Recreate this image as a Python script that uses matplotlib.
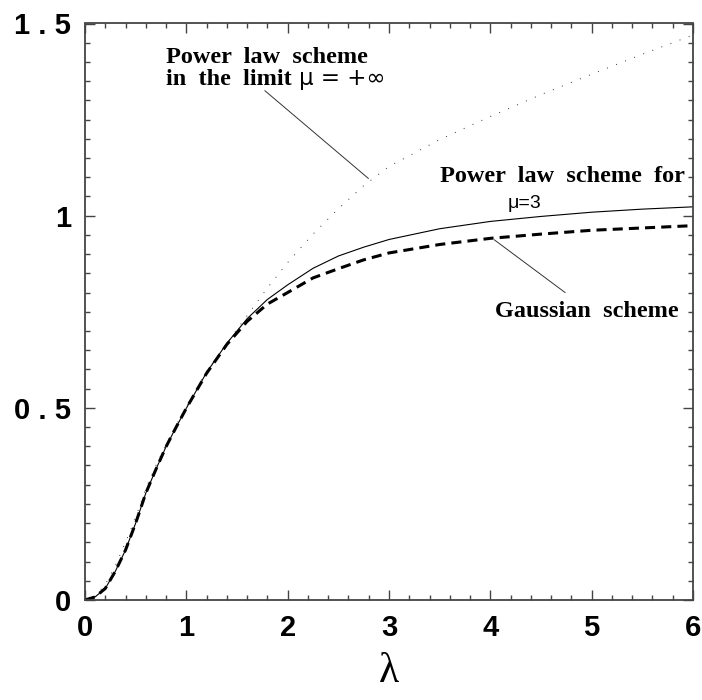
import numpy as np
import matplotlib
matplotlib.use("Agg")
import matplotlib.pyplot as plt
from matplotlib.ticker import MultipleLocator

# values
lam = [0, 0.1, 0.2, 0.3, 0.4, 0.5, 0.6, 0.7, 0.8, 0.9, 1.0, 1.2, 1.4, 1.6, 1.8,
       2.0, 2.25, 2.5, 2.75, 3.0, 3.5, 4.0, 4.5, 5.0, 5.5, 6.0]
gauss = [0, 0.008, 0.03, 0.075, 0.13, 0.2, 0.278, 0.34, 0.399, 0.45, 0.499, 0.59,
         0.665, 0.725, 0.77, 0.80, 0.838, 0.862, 0.885, 0.903, 0.925, 0.941,
         0.952, 0.962, 0.968, 0.974]
power3 = [0, 0.008, 0.03, 0.075, 0.13, 0.2, 0.278, 0.34, 0.399, 0.45, 0.499, 0.592,
          0.668, 0.732, 0.782, 0.82, 0.863, 0.895, 0.918, 0.938, 0.966, 0.985,
          0.998, 1.009, 1.017, 1.023]
power_inf = [0, 0.01, 0.04, 0.09, 0.15, 0.215, 0.29, 0.35, 0.405, 0.455, 0.502, 0.595,
             0.668, 0.740, 0.812, 0.878, 0.952, 1.018, 1.078, 1.128, 1.198, 1.258,
             1.315, 1.368, 1.42, 1.47]

xticks = [0, 1, 2, 3, 4, 5, 6]
yticks = [0, 0.5, 1, 1.5]
yticklabels = ["0", "0 . 5", "1", "1 . 5"]

fig = plt.figure(figsize=(7.02, 7.00), dpi=100)
ax = fig.add_axes([85 / 702, 1 - 600 / 700, 608 / 702, 576.5 / 700])

ax.plot(lam, power_inf, color="#333333", lw=0.7, ls=(0, (1, 9)))
ax.plot(lam, power3, color="black", lw=0.8, ls="-")
ax.plot(lam, gauss, color="black", lw=2.2, ls=(0, (3.3, 2.0)))

ax.set_xlim(0, 6)
ax.set_ylim(0, 1.5)
ax.set_xticks(xticks)
ax.set_yticks(yticks)
ax.set_yticklabels(yticklabels)
ax.xaxis.set_minor_locator(MultipleLocator(0.2))
ax.yaxis.set_minor_locator(MultipleLocator(0.05))
ax.tick_params(which="both", direction="in", top=True, right=True, color="#444444")
ax.tick_params(which="major", length=7, width=1, pad=10)
ax.tick_params(which="minor", length=3.5, width=1)
for lab in ax.get_xticklabels() + ax.get_yticklabels():
    lab.set_fontfamily("Liberation Sans")
    lab.set_fontweight("bold")
    lab.set_fontsize(21)
for s in ax.spines.values():
    s.set_color("#444444")
    s.set_linewidth(1.3)

ax.set_xlabel("λ", fontfamily="Liberation Serif", fontsize=30, labelpad=8)

tf = dict(fontfamily="Liberation Serif", fontweight="bold", fontsize=17.5)
ax.text(0.80, 1.397, "Power  law  scheme", va="baseline", ha="left", **tf)
ax.text(0.80, 1.340, "in  the  limit", va="baseline", ha="left", **tf)
ax.text(2.11, 1.340, "μ = +∞", va="baseline", ha="left",
        fontfamily="DejaVu Sans", fontsize=16.5)
ax.text(5.92, 1.088, "Power  law  scheme  for", va="baseline", ha="right", **tf)
ax.text(4.17, 1.020, "μ=3", va="baseline", ha="left",
        fontfamily="Liberation Sans", fontsize=14)
ax.text(5.86, 0.736, "Gaussian  scheme", va="baseline", ha="right", **tf)

ax.plot([1.776, 2.796], [1.325, 1.097], color="#333333", lw=0.7)
ax.plot([4.04, 4.738], [0.937, 0.800], color="#333333", lw=0.7)

fig.savefig("out.png", dpi=100)
